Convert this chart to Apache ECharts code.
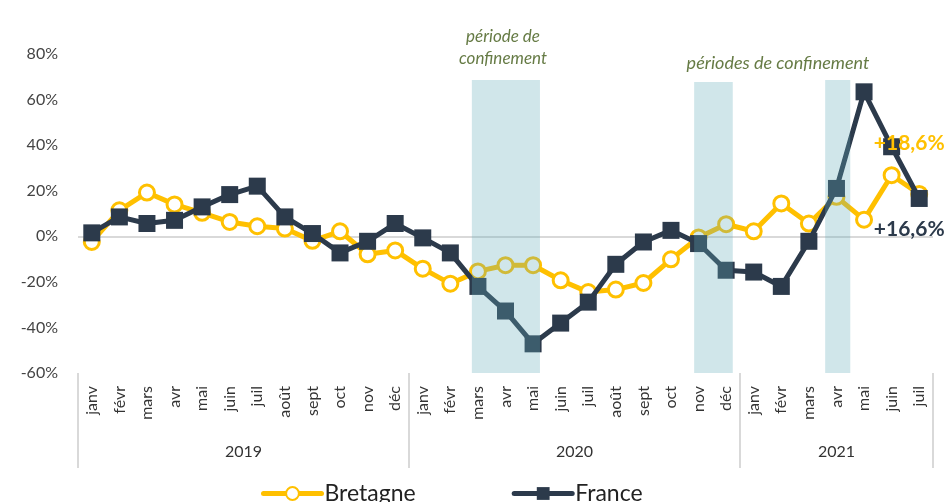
<!DOCTYPE html>
<html>
<head>
<meta charset="utf-8">
<script src="https://cdn.jsdelivr.net/npm/echarts@6/dist/echarts.min.js"></script>
<style>
  html, body { margin: 0; padding: 0; background: #fff; }
  #chart { width: 951px; height: 502px; }
</style>
</head>
<body>
<div id="chart"></div>
<script>
const months = ['janv', 'févr', 'mars', 'avr', 'mai', 'juin', 'juil', 'août', 'sept', 'oct', 'nov', 'déc',
  'janv', 'févr', 'mars', 'avr', 'mai', 'juin', 'juil', 'août', 'sept', 'oct', 'nov', 'déc',
  'janv', 'févr', 'mars', 'avr', 'mai', 'juin', 'juil']
const years = ['2019', '2020', '2021']
const yearMonthCounts = [12, 12, 7]

const bretagne = [-2.5, 11.4, 19.2, 14, 10.3, 6.3, 4.4, 3.4, -2, 2.2, -7.9, -6.2,
  -14.2, -20.8, -15.4, -12.7, -12.7, -19.3, -24.5, -23.4, -20.5, -10.1, -0.5, 5.3,
  2.2, 14.4, 5.6, 17.3, 7.3, 26.8, 18.6]
const france = [1.5, 8.5, 5.6, 7, 12.9, 18.3, 22, 8.5, 1.2, -7.3, -2.2, 5.6,
  -0.7, -7.3, -22, -32.8, -47.2, -38.1, -28.9, -12.3, -2.5, 2.6, -3.2, -14.9,
  -15.7, -22, -2.2, 21, 63.4, 39.3, 16.6]
const lastLabels = ['+18,6%', '+16,6%']

// périodes de confinement, en position de mois (index), et étendue verticale en %
const lockdowns = [[13.78, 16.25, 68.6, -61], [21.84, 23.24, 67.7, -63.7], [26.59, 27.5, 68.6, -63.7]]
const yTicks = { min: -60, max: 80, interval: 20 }

const yellow = '#FFC000'
const navy = '#2C3A4B'
const green = '#667b45'
const font = 'Lato'

// limites et centres des années, calculés depuis le nombre de mois
const yearBounds = [-0.5]
const yearCenters = []
yearMonthCounts.forEach(n => {
  const start = yearBounds[yearBounds.length - 1]
  yearCenters.push(start + n / 2)
  yearBounds.push(start + n)
})

const last = months.length - 1

const chart = echarts.init(document.getElementById('chart'))
chart.setOption({
  animation: false,
  textStyle: { fontFamily: font },
  grid: { left: 78, right: 18, top: 54, bottom: 129 },
  legend: {
    data: ['Bretagne', 'France'],
    left: 256, top: 477,
    itemWidth: 58, itemHeight: 16, itemGap: 96,
    lineStyle: { width: 5, cap: 'round' },
    textStyle: { fontSize: 23, color: '#222', fontFamily: font, padding: [0, 0, 0, -2] }
  },
  xAxis: [{
    type: 'category',
    data: months,
    axisLine: { show: false },
    axisTick: { show: false },
    axisLabel: { rotate: 90, interval: 0, fontSize: 16, color: '#333', margin: 13 }
  }, {
    type: 'value',
    min: -0.5, max: 30.5,
    position: 'bottom',
    axisLine: { show: false },
    splitLine: { show: false },
    axisTick: {
      show: true, length: 95, customValues: yearBounds,
      lineStyle: { color: '#d9d9d9', width: 2 }
    },
    axisLabel: {
      margin: 71, fontSize: 16, color: '#333',
      customValues: yearCenters,
      formatter: v => years[yearCenters.indexOf(v)] || ''
    }
  }],
  yAxis: {
    type: 'value',
    min: yTicks.min, max: yTicks.max, interval: yTicks.interval,
    axisLine: { show: false },
    axisTick: { show: false },
    splitLine: { show: false },
    axisLabel: { formatter: '{value}%', fontSize: 16, color: '#444', margin: 20 }
  },
  series: [{
    name: 'zero',
    type: 'line',
    data: [],
    z: 1,
    markLine: {
      z: 1,
      silent: true, symbol: 'none', label: { show: false },
      lineStyle: { color: '#d9d9d9', width: 2, type: 'solid' },
      data: [{ yAxis: 0 }]
    }
  }, {
    name: 'Bretagne',
    type: 'line',
    data: bretagne,
    symbol: 'circle',
    symbolSize: 15,
    itemStyle: { color: '#fff', borderColor: yellow, borderWidth: 3 },
    lineStyle: { color: yellow, width: 5 },
    z: 2
  }, {
    name: 'France',
    type: 'line',
    data: france,
    symbol: 'rect',
    symbolSize: 17,
    itemStyle: { color: navy },
    lineStyle: { color: navy, width: 5 },
    z: 3
  }, {
    name: 'bands',
    type: 'line',
    xAxisIndex: 1,
    data: [],
    clip: false,
    z: 10,
    markArea: {
      z: 10,
      silent: true,
      itemStyle: { color: 'rgba(100,172,185,0.3)' },
      data: lockdowns.map(d => [{ coord: [d[0], d[2]] }, { coord: [d[1], d[3]] }])
    },
    markPoint: {
      z: 12,
      silent: true,
      symbol: 'circle', symbolSize: 0,
      label: { show: true, fontSize: 21, fontWeight: 'bold', position: 'inside' },
      data: [
        { coord: [last, bretagne[last]], label: { formatter: lastLabels[0], color: yellow, offset: [-10, -51] } },
        { coord: [last, france[last]], label: { formatter: lastLabels[1], color: navy, offset: [-10, 31] } }
      ]
    }
  }],
  graphic: [{
    type: 'text', x: 503, y: 48,
    style: { text: 'période de\nconfinement', align: 'center', verticalAlign: 'middle', font: 'italic 17px Lato', fill: green, lineHeight: 22 }
  }, {
    type: 'text', x: 778, y: 63,
    style: { text: 'périodes de confinement', align: 'center', verticalAlign: 'middle', font: 'italic 18px Lato', fill: green }
  }]
})
</script>
</body>
</html>
